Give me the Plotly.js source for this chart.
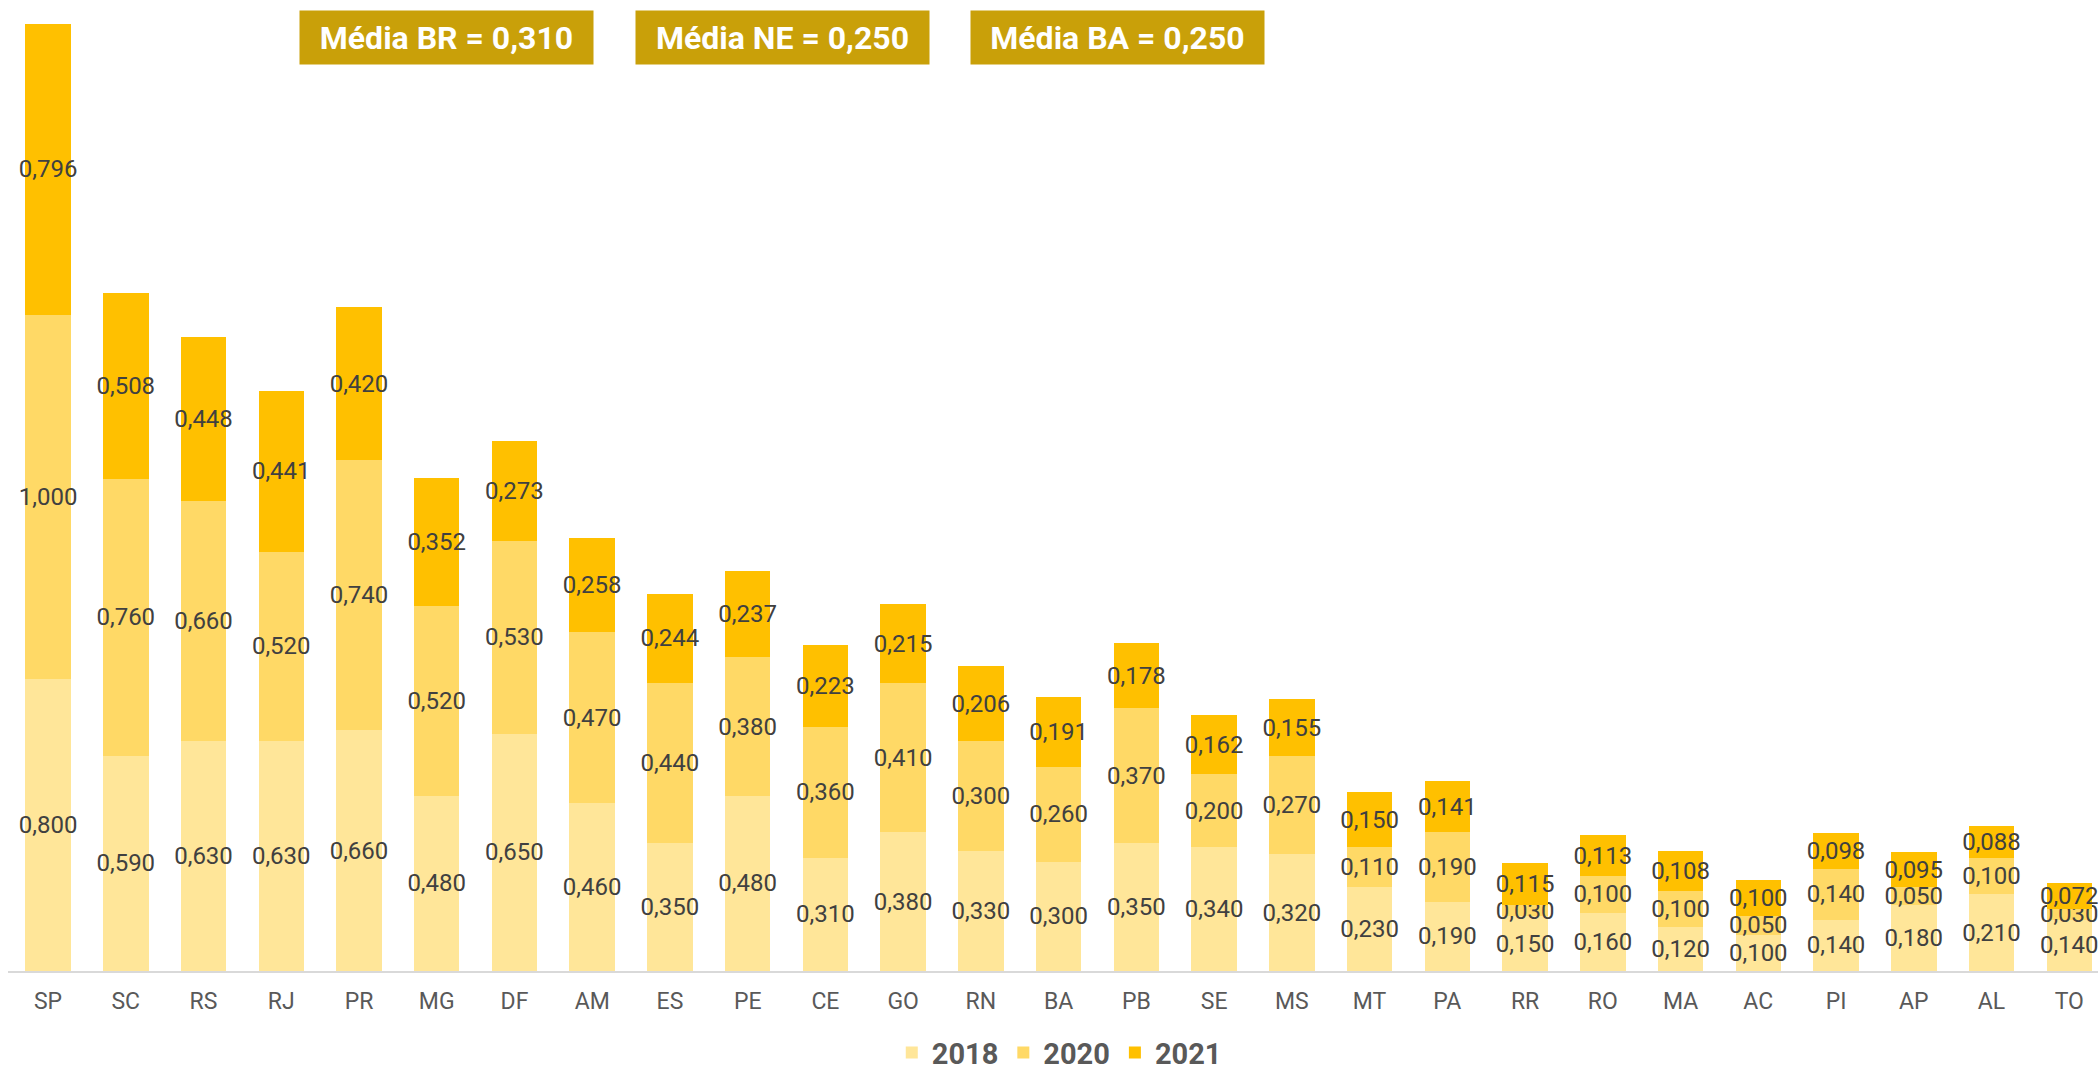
<!DOCTYPE html>
<html>
<head>
<meta charset="utf-8">
<script src="https://cdn.plot.ly/plotly-3.0.1.min.js"></script>
<style>
  html, body { margin: 0; padding: 0; background: #ffffff; }
  #chart { width: 2098px; height: 1071px; }
</style>
</head>
<body>
<div id="chart"></div>
<script>
const categories = ["SP","SC","RS","RJ","PR","MG","DF","AM","ES","PE","CE","GO","RN","BA","PB","SE","MS","MT","PA","RR","RO","MA","AC","PI","AP","AL","TO"];
const values2018 = [0.800,0.590,0.630,0.630,0.660,0.480,0.650,0.460,0.350,0.480,0.310,0.380,0.330,0.300,0.350,0.340,0.320,0.230,0.190,0.150,0.160,0.120,0.100,0.140,0.180,0.210,0.140];
const values2020 = [1.000,0.760,0.660,0.520,0.740,0.520,0.530,0.470,0.440,0.380,0.360,0.410,0.300,0.260,0.370,0.200,0.270,0.110,0.190,0.030,0.100,0.100,0.050,0.140,0.050,0.100,0.030];
const values2021 = [0.796,0.508,0.448,0.441,0.420,0.352,0.273,0.258,0.244,0.237,0.223,0.215,0.206,0.191,0.178,0.162,0.155,0.150,0.141,0.115,0.113,0.108,0.100,0.098,0.095,0.088,0.072];
const seriesNames = ["2018","2020","2021"];
const averageLabels = ["Média BR = 0,310","Média NE = 0,250","Média BA = 0,250"];

const colors = ["#FFE699","#FFD966","#FFC000"];
const seriesValues = [values2018, values2020, values2021];

const traces = seriesValues.map((vals, i) => ({
  type: "bar",
  name: seriesNames[i],
  x: categories,
  y: vals,
  marker: { color: colors[i], line: { width: 0 } },
  texttemplate: "%{y:.3f}",
  textposition: "inside",
  insidetextanchor: "middle",
  constraintext: "none",
  textangle: 0,
  insidetextfont: { family: "Roboto, sans-serif", size: 24, color: "#404040" },
  hoverinfo: "skip"
}));

const boxX = [0.2098, 0.3706, 0.5309];
const annotations = averageLabels.map((t, i) => ({
  xref: "paper", yref: "paper",
  x: boxX[i], y: 0.9714,
  xanchor: "center", yanchor: "middle",
  text: "<b>" + t + "</b>",
  showarrow: false,
  bgcolor: "#C9A009",
  width: 293, height: 53,
  font: { family: "Roboto, sans-serif", size: 32, color: "#ffffff" },
  borderpad: 0
}));

const layout = {
  width: 2098, height: 1071,
  paper_bgcolor: "#ffffff", plot_bgcolor: "#ffffff",
  separators: ",.",
  barmode: "stack",
  bargap: 0.415,
  margin: { l: 8, r: 0, t: 10, b: 100, autoexpand: false },
  uniformtext: { minsize: 24, mode: "show" },
  xaxis: {
    type: "category",
    range: [-0.515, 26.37],
    showline: true, linecolor: "#D9D9D9", linewidth: 2,
    showgrid: false, zeroline: false,
    ticks: "outside", ticklen: 8, tickcolor: "rgba(0,0,0,0)",
    tickfont: { family: "Roboto, sans-serif", size: 23, color: "#595959" }
  },
  yaxis: {
    range: [0, 2.635],
    visible: false, showgrid: false, zeroline: false
  },
  legend: {
    orientation: "h",
    x: 0.503, xanchor: "center",
    y: -0.085, yanchor: "middle",
    font: { family: "Roboto, sans-serif", size: 29, color: "#595959", weight: "bold" },
    traceorder: "normal"
  },
  annotations: annotations,
  showlegend: true
};

Plotly.newPlot("chart", traces, layout, { displayModeBar: false, staticPlot: true });
</script>
</body>
</html>
